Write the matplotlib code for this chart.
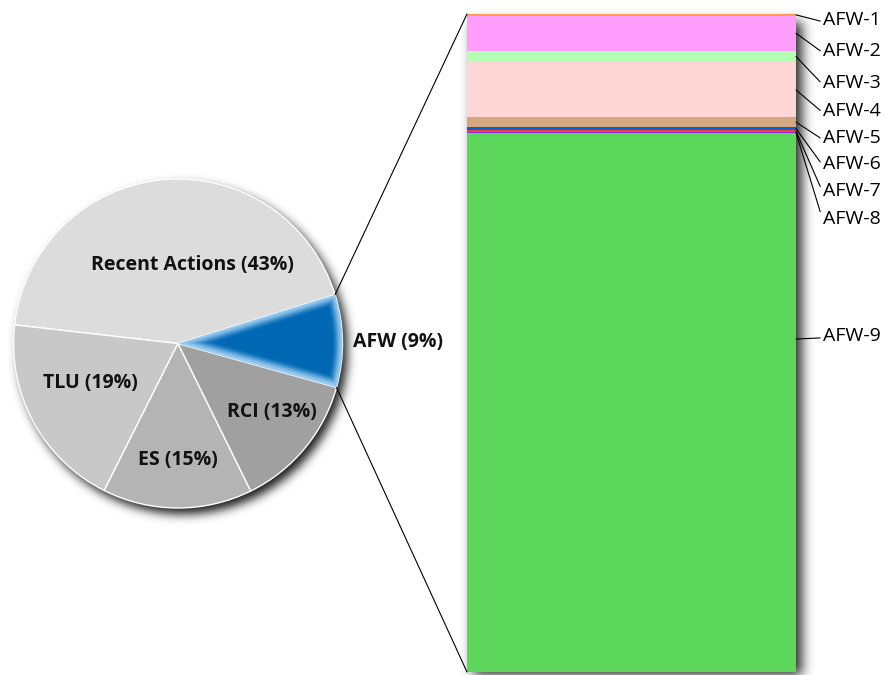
import numpy as np
import matplotlib.pyplot as plt
from matplotlib.patches import ConnectionPatch
from matplotlib.colors import to_rgb

# Share of each action category
categories = ['AFW', 'Recent Actions', 'TLU', 'ES', 'RCI']
shares = [9.1, 43.4, 19.4, 14.7, 13.4]
pie_colors = ['#0068b4', '#dcdcdc', '#c8c8c8', '#b4b4b4', '#a0a0a0']

# Breakdown of the AFW slice
afw_names = ['AFW-1', 'AFW-2', 'AFW-3', 'AFW-4', 'AFW-5', 'AFW-6', 'AFW-7', 'AFW-8', 'AFW-9']
afw_values = [0.26, 5.32, 1.78, 8.36, 1.41, 0.56, 0.30, 0.08, 81.93]
afw_colors = ['#ff9c50', '#ff9eff', '#b4ffb4', '#ffd6d6', '#d4a880', '#0066cc',
              '#ff3b3b', '#8a2be2', '#5cd75c']

plt.rcParams['font.family'] = ['Open Sans', 'DejaVu Sans']


def blur(img, sigma):
    # separable gaussian blur in plain numpy
    k = np.arange(-3 * sigma, 3 * sigma + 1)
    g = np.exp(-k ** 2 / (2 * sigma ** 2))
    g /= g.sum()
    out = np.apply_along_axis(lambda v: np.convolve(v, g, mode='same'), 0, img)
    return np.apply_along_axis(lambda v: np.convolve(v, g, mode='same'), 1, out)


W, H = 885, 675
fig = plt.figure(figsize=(W / 100, H / 100), dpi=100)
ax = fig.add_axes([0, 0, 1, 1])

cx, cy, r = 178, 331.5, 164.5
x0, y0, bw, bh = 467, 3, 329, 658

# drop shadows for the pie and the bar
xx, yy = np.meshgrid(np.arange(W) + 0.5, np.arange(H) + 0.5)
pie_mask = ((xx - cx - 5) ** 2 + (yy - cy + 6) ** 2 <= r ** 2).astype(float)
bar_mask = ((xx >= x0 + 6) & (xx <= x0 + bw + 6) &
            (yy >= y0 - 5) & (yy <= y0 + bh - 8)).astype(float)
shadow = np.maximum(blur(pie_mask, 5) * 0.9, blur(bar_mask, 6) * 0.85)
rgba = np.zeros((H, W, 4))
rgba[..., 3] = shadow
ax.imshow(rgba, extent=(0, W, 0, H), origin='lower', zorder=0, interpolation='bilinear')

wedges, _ = ax.pie(shares, colors=pie_colors, startangle=-15.5, center=(cx, cy), radius=r,
                   wedgeprops=dict(edgecolor='white', linewidth=1))
for w in wedges:
    w.set_zorder(2)

# inner glow on the highlighted slice
afw = wedges[0]
t1, t2 = np.radians(afw.theta1), np.radians(afw.theta2)
gx, gy = np.meshgrid(np.linspace(cx, cx + r, 660), np.linspace(cy - r * 0.4, cy + r * 0.4, 264))
rho = np.hypot(gx - cx, gy - cy)
phi = np.arctan2(gy - cy, gx - cx)
dist = np.minimum.reduce([r - rho, rho * np.sin(np.clip(phi - t1, 0, None)),
                          rho * np.sin(np.clip(t2 - phi, 0, None))])
f = np.clip(dist / 11, 0, 1)
f = f * f * (3 - 2 * f)
light, dark = np.array(to_rgb('#9ccdf2')), np.array(to_rgb('#0068b4'))
glow = light * (1 - f[..., None]) + dark * f[..., None]
im = ax.imshow(glow, extent=(cx, cx + r, cy - r * 0.4, cy + r * 0.4), origin='lower',
               zorder=3, interpolation='bilinear')
im.set_clip_path(afw)

ax.set_xlim(0, W)
ax.set_ylim(0, H)
ax.set_aspect('equal')
ax.axis('off')

label_pos = {'Recent Actions': (192, 410), 'TLU': (90, 292), 'ES': (178, 215),
             'RCI': (272, 263), 'AFW': (398, 333)}
for name, val in zip(categories, shares):
    x, y = label_pos[name]
    ax.text(x, y, f'{name} ({val:.0f}%)', ha='center', va='center', zorder=5,
            fontsize=14, fontweight='bold', color='#111111')

# stacked bar for the AFW breakdown
bx = fig.add_axes([x0 / W, y0 / H, bw / W, bh / H])
bottoms = np.concatenate([[0], np.cumsum(afw_values)[:-1]])
bx.bar(0, afw_values, bottom=bottoms, width=1, align='edge', color=afw_colors, linewidth=0)
bx.set_xlim(0, 1)
bx.set_ylim(sum(afw_values), 0)
bx.axis('off')

# connector lines from slice edges to bar corners
for th, yb in [(t2, 0), (t1, sum(afw_values))]:
    con = ConnectionPatch(xyA=(cx + r * np.cos(th), cy + r * np.sin(th)), coordsA=ax.transData,
                          xyB=(0, yb), coordsB=bx.transData, color='black', lw=0.8)
    fig.add_artist(con)

label_y = [20, 51, 83, 111, 138, 164, 191, 219, 336]
for i, (name, val, b) in enumerate(zip(afw_names, afw_values, bottoms)):
    mid = b + val / 2
    if name == 'AFW-9':
        mid = sum(afw_values) / 2 - 0.6
    bx.annotate(name, xy=(1, mid), xycoords='data', xytext=(823, H - label_y[i]),
                textcoords='figure pixels', ha='left', va='center', fontsize=14,
                annotation_clip=False,
                arrowprops=dict(arrowstyle='-', color='black', lw=0.8,
                                shrinkA=0, shrinkB=0, relpos=(0, 0.4)))

fig.savefig('out.png', dpi=100)
